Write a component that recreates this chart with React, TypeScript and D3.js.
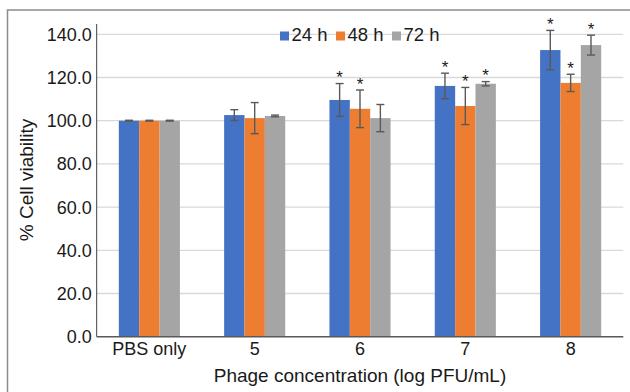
import React, { useEffect, useRef } from 'react';
import * as d3 from 'd3';

// values
const categories = ['PBS only', '5', '6', '7', '8'];
const seriesNames = ['24 h', '48 h', '72 h'];
const mean24 = [100.0, 102.6, 109.6, 116.1, 132.7];
const mean48 = [100.0, 101.2, 105.5, 106.8, 117.5];
const mean72 = [100.0, 102.2, 101.2, 117.1, 135.0];
const err24 = [0.2, 2.5, 7.6, 5.9, 9.1];
const err48 = [0.2, 7.2, 8.7, 8.6, 4.0];
const err72 = [0.2, 0.4, 6.3, 1.0, 4.6];
const sig24 = [false, false, true, true, true];
const sig48 = [false, false, true, true, true];
const sig72 = [false, false, false, true, true];
const yTicks = [0, 20, 40, 60, 80, 100, 120, 140];

const colors = ['#4472C4', '#ED7D31', '#A5A5A5'];
const FONT = 'Liberation Sans, Arial, sans-serif';

const App = () => {
  const svgRef = useRef<SVGSVGElement>(null);

  useEffect(() => {
    const width = 630;
    const height = 392;
    const margin = { top: 34.3, right: 6.7, bottom: 55.3, left: 96.7 };

    const svg = d3.select(svgRef.current).attr('width', width).attr('height', height);
    svg.selectAll('*').remove();

    const means = [mean24, mean48, mean72];
    const errs = [err24, err48, err72];
    const sigs = [sig24, sig48, sig72];

    const x = d3
      .scaleBand()
      .domain(categories)
      .range([margin.left, width - margin.right])
      .paddingInner(0.42)
      .paddingOuter(0.21);
    const xs = d3.scaleBand().domain(seriesNames).range([0, x.bandwidth()]);
    const y = d3.scaleLinear().domain([0, 140]).range([height - margin.bottom, margin.top]);

    // outer frame (partial, as in the source image)
    svg.append('path')
      .attr('d', `M7.5,${height} V10 H${width}`)
      .attr('fill', 'none')
      .attr('stroke', '#8c8c8c')
      .attr('stroke-width', 1.5);

    // gridlines
    svg.append('g')
      .selectAll('line')
      .data(yTicks.filter((t) => t > 0))
      .join('line')
      .attr('x1', margin.left)
      .attr('x2', width - margin.right)
      .attr('y1', (d) => y(d))
      .attr('y2', (d) => y(d))
      .attr('stroke', '#d9d9d9')
      .attr('stroke-width', 1.3);

    // y axis
    const yAxis = d3.axisLeft(y).tickValues(yTicks).tickSize(0).tickPadding(5).tickFormat(d3.format('.1f'));
    const gy = svg.append('g').attr('transform', `translate(${margin.left},0)`).call(yAxis);
    gy.select('.domain').remove();
    gy.selectAll('text')
      .attr('font-family', FONT)
      .attr('font-size', 18)
      .attr('fill', '#1a1a1a')
      .attr('dy', '0.33em');
    svg.append('line')
      .attr('x1', margin.left)
      .attr('x2', margin.left)
      .attr('y1', 24)
      .attr('y2', y(0))
      .attr('stroke', '#404040')
      .attr('stroke-width', 1);

    // bars
    const groups = svg.append('g')
      .selectAll('g')
      .data(seriesNames)
      .join('g');

    groups.each(function (name, si) {
      const g = d3.select(this);
      const rows = categories.map((c, i) => ({ c, v: means[si][i], e: errs[si][i], s: sigs[si][i] }));
      const cx = (d) => (x(d.c) as number) + (xs(name) as number) + xs.bandwidth() / 2;

      g.selectAll('rect')
        .data(rows)
        .join('rect')
        .attr('x', (d) => (x(d.c) as number) + (xs(name) as number))
        .attr('width', xs.bandwidth())
        .attr('y', (d) => y(d.v))
        .attr('height', (d) => y(0) - y(d.v))
        .attr('fill', colors[si]);

      // error bars
      const eb = g.selectAll('g.err').data(rows).join('g').attr('class', 'err');
      eb.append('line')
        .attr('x1', cx)
        .attr('x2', cx)
        .attr('y1', (d) => y(d.v + d.e))
        .attr('y2', (d) => y(d.v - d.e));
      eb.append('line')
        .attr('x1', (d) => cx(d) - 4)
        .attr('x2', (d) => cx(d) + 4)
        .attr('y1', (d) => y(d.v + d.e))
        .attr('y2', (d) => y(d.v + d.e));
      eb.append('line')
        .attr('x1', (d) => cx(d) - 4)
        .attr('x2', (d) => cx(d) + 4)
        .attr('y1', (d) => y(d.v - d.e))
        .attr('y2', (d) => y(d.v - d.e));
      eb.selectAll('line').attr('stroke', '#595959').attr('stroke-width', 1.4);

      // significance stars
      g.selectAll('text')
        .data(rows.filter((d) => d.s))
        .join('text')
        .attr('x', cx)
        .attr('y', (d) => y(d.v + d.e) - 0.5)
        .attr('text-anchor', 'middle')
        .attr('font-family', FONT)
        .attr('font-size', 17)
        .attr('fill', '#1a1a1a')
        .text('*');
    });

    // x axis
    svg.append('line')
      .attr('x1', margin.left)
      .attr('x2', width - margin.right)
      .attr('y1', y(0))
      .attr('y2', y(0))
      .attr('stroke', '#595959')
      .attr('stroke-width', 1.5);

    svg.append('g')
      .selectAll('text')
      .data(categories)
      .join('text')
      .attr('x', (d) => (x(d) as number) + x.bandwidth() / 2)
      .attr('y', y(0) + 18.5)
      .attr('text-anchor', 'middle')
      .attr('font-family', FONT)
      .attr('font-size', 18)
      .attr('fill', '#1a1a1a')
      .text((d) => d);

    // axis titles
    svg.append('text')
      .attr('x', (margin.left + width - margin.right) / 2)
      .attr('y', 382)
      .attr('text-anchor', 'middle')
      .attr('font-family', FONT)
      .attr('font-size', 19)
      .attr('fill', '#1a1a1a')
      .text('Phage concentration (log PFU/mL)');

    svg.append('text')
      .attr('transform', 'translate(33,180) rotate(-90)')
      .attr('text-anchor', 'middle')
      .attr('font-family', FONT)
      .attr('font-size', 19)
      .attr('fill', '#1a1a1a')
      .text('% Cell viability');

    // legend
    const legend = svg.append('g')
      .selectAll('g')
      .data(seriesNames)
      .join('g')
      .attr('transform', (d, i) => `translate(${280 + i * 56},0)`);
    legend.append('rect')
      .attr('x', 0)
      .attr('y', 31.5)
      .attr('width', 9)
      .attr('height', 9)
      .attr('fill', (d, i) => colors[i]);
    legend.append('text')
      .attr('x', 11.5)
      .attr('y', 41)
      .attr('font-family', FONT)
      .attr('font-size', 18.5)
      .attr('fill', '#1a1a1a')
      .text((d) => d);
  }, []);

  return (
    <div style={{ position: 'absolute', left: 0, top: 0 }}>
      <svg ref={svgRef} style={{ display: 'block', background: '#fff' }}></svg>
    </div>
  );
};

export default App;
